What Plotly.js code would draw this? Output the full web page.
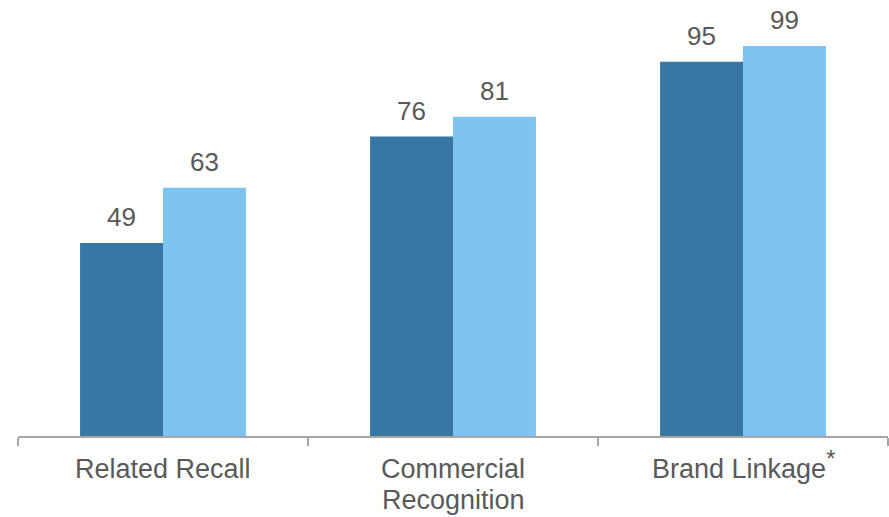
<!DOCTYPE html>
<html><head><meta charset="utf-8">
<script src="https://cdn.plot.ly/plotly-3.0.1.min.js"></script>
<style>html,body{margin:0;padding:0;background:#fff;}</style>
</head><body><div id="chart" style="width:889px;height:517px;"></div>
<script>
var categories = ["Related Recall", "Commercial<br>Recognition", "Brand Linkage<sup><span style=\"font-size:24px\">*</span></sup>"];
var seriesA = [49, 76, 95];
var seriesB = [63, 81, 99];

var W = 889, H = 517;
var margin = {l: 18, r: 1, t: 0, b: 81};
var bargap = 0.428;
var valueFont = {family: "Liberation Sans, Arial, sans-serif", size: 26, color: "#595959"};
var catFont = {family: "Liberation Sans, Arial, sans-serif", size: 27, color: "#595959"};

var data = [
  {type: "bar", x: categories, y: seriesA, name: "A", marker: {color: "#3877A3"}, hoverinfo: "none"},
  {type: "bar", x: categories, y: seriesB, name: "B", marker: {color: "#7DC5F0"}, hoverinfo: "none"}
];

// derived bar half-offset (pixels) for placing value labels over each bar
var plotW = W - margin.l - margin.r;
var barW = plotW / categories.length * (1 - bargap) / 2;
var annotations = [];
[seriesA, seriesB].forEach(function (s, si) {
  s.forEach(function (v, i) {
    annotations.push({x: categories[i], y: v, xref: "x", yref: "y", text: String(v),
      showarrow: false, yanchor: "bottom", xanchor: "center",
      xshift: (si === 0 ? -1 : 1) * barW / 2, yshift: 9, font: valueFont});
  });
});
// category labels (line spacing as in the reference)
categories.forEach(function (c) {
  c.split("<br>").forEach(function (line, li) {
    annotations.push({x: c, y: 0, xref: "x", yref: "y", text: line, showarrow: false,
      yanchor: "bottom", xanchor: "center", yshift: -50 - 31 * li, font: catFont});
  });
});

var layout = {
  width: W, height: H, margin: margin,
  paper_bgcolor: "#fff", plot_bgcolor: "#fff",
  showlegend: false,
  barmode: "group", bargap: bargap, bargroupgap: 0,
  xaxis: {showline: true, linecolor: "#a6a6a6", linewidth: 2, ticks: "outside", tickson: "boundaries",
          ticklen: 8, tickcolor: "#a6a6a6", tickwidth: 2, showticklabels: false,
          showgrid: false, zeroline: false},
  yaxis: {range: [0, 110.66], visible: false, showgrid: false, zeroline: false},
  annotations: annotations
};
Plotly.newPlot("chart", data, layout, {staticPlot: true});
</script></body></html>
